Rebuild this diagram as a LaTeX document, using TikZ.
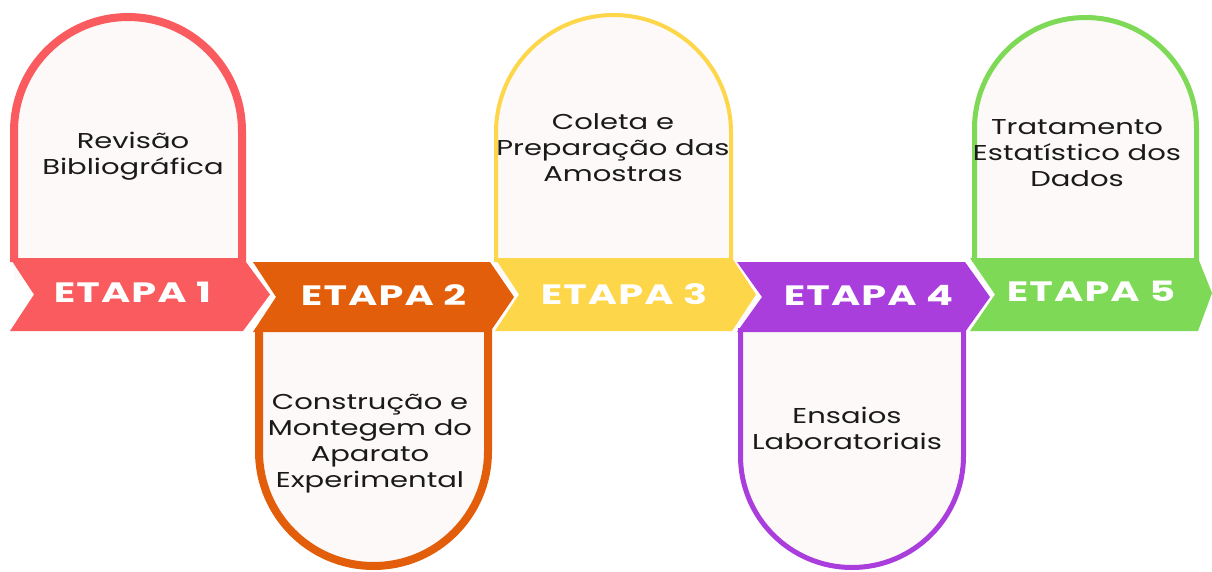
\documentclass[tikz,border=0pt]{standalone}
\usepackage{fontspec}
\setmainfont{Poppins}
\newfontfamily\bannerfont{Poppins}[LetterSpace=4,FakeStretch=1.42]
\newfontfamily\bodyfont{Poppins}[FakeStretch=1.35]
\definecolor{cA}{HTML}{F95B5E}
\definecolor{cB}{HTML}{E25E0A}
\definecolor{cC}{HTML}{FDD649}
\definecolor{cD}{HTML}{A93EDC}
\definecolor{cE}{HTML}{7ED957}
\definecolor{archfill}{HTML}{FCF9F8}
\definecolor{ink}{HTML}{1A1A1A}
\tikzset{
  x=1pt, y=-1pt,
  bodytext/.style={text=ink, align=center, font=\bodyfont\fontsize{21.5}{26}\selectfont, inner sep=0pt},
  bannertext/.style={text=white, font=\bannerfont\bfseries\fontsize{28}{30}\selectfont, inner sep=0pt},
}
\begin{document}
\begin{tikzpicture}
\useasboundingbox (0,0) rectangle (1212,571);
% arches (up): fill, then open outline
\fill[archfill] (14,280) -- (14,131) arc[start angle=180,end angle=360,radius=114] -- (242,280) -- cycle;
\draw[cA, line width=8pt] (14,262) -- (14,131) arc[start angle=180,end angle=360,radius=114] -- (242,262);
\fill[archfill] (496,280) -- (496,132.5) arc[start angle=180,end angle=360,radius=117.5] -- (731,280) -- cycle;
\draw[cC, line width=4pt] (496,262) -- (496,132.5) arc[start angle=180,end angle=360,radius=117.5] -- (731,262);
\fill[archfill] (974.5,280) -- (974.5,128.5) arc[start angle=180,end angle=360,radius=111] -- (1196.5,280) -- cycle;
\draw[cE, line width=5pt] (974.5,262) -- (974.5,128.5) arc[start angle=180,end angle=360,radius=111] -- (1196.5,262);
% arches (down)
\fill[archfill] (259,310) -- (259,451.5) arc[start angle=180,end angle=0,radius=114.5] -- (488,310) -- cycle;
\draw[cB, line width=8pt] (259,328) -- (259,451.5) arc[start angle=180,end angle=0,radius=114.5] -- (488,328);
\fill[archfill] (740.5,310) -- (740.5,456) arc[start angle=180,end angle=0,radius=111.5] -- (963.5,310) -- cycle;
\draw[cD, line width=5pt] (740.5,328) -- (740.5,456) arc[start angle=180,end angle=0,radius=111.5] -- (963.5,328);
% banners
\fill[cA] (10,258) -- (243,258) -- (270,294.5) -- (243,331) -- (10,331) -- (34,294.5) -- cycle;
\fill[cB] (253,262) -- (490,262) -- (514,297) -- (490,332) -- (253,332) -- (276,297) -- cycle;
\fill[cC] (495,258) -- (732,258) -- (756,294.5) -- (732,331) -- (495,331) -- (519,294.5) -- cycle;
\fill[cD] (737,262) -- (965,262) -- (990,297) -- (965,332) -- (737,332) -- (762,297) -- cycle;
\fill[cE] (970,258) -- (1198,258) -- (1212,293) -- (1198,331) -- (970,331) -- (995,294.5) -- cycle;
% banner labels
\node[bannertext] (e1) at (132.5,292) {ETAPA 1};
\node[bannertext] (e2) at (383.5,295) {ETAPA 2};
\node[bannertext] (e3) at (624,294) {ETAPA 3};
\node[bannertext] (e4) at (868.5,295) {ETAPA 4};
\node[bannertext] (e5) at (1091,291) {ETAPA 5};
% body texts
\node[bodytext] (t1) at (133,156) {Revisão\\Bibliográfica};
\node[bodytext] (t2) at (370,444) {Construção e\\Montegem do\\Aparato\\Experimental};
\node[bodytext] (t3) at (613,148) {Coleta e\\Preparação das\\Amostras};
\node[bodytext] (t4) at (847,428) {Ensaios\\Laboratoriais};
\node[bodytext] (t5) at (1077,153) {Tratamento\\Estatístico dos\\Dados};
\end{tikzpicture}
\end{document}
